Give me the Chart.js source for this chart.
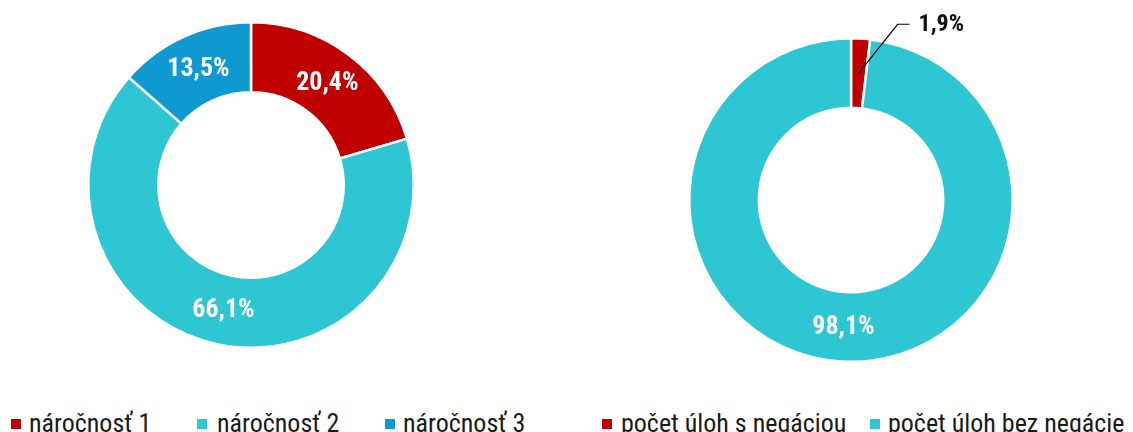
<!DOCTYPE html>
<html><head><meta charset="utf-8">
<script src="https://cdn.jsdelivr.net/npm/chart.js@4"></script>
<style>
html,body{margin:0;padding:0;background:#fff;width:1133px;height:432px;overflow:hidden;}
#wrap{position:relative;width:1133px;height:432px;}
canvas{position:absolute;}
.lt{position:absolute;font-family:"Roboto Condensed","Liberation Sans Narrow","Roboto",sans-serif;font-size:26px;color:#1a1a1a;white-space:nowrap;line-height:26px;}
.sq{position:absolute;width:10px;height:10px;}
</style></head>
<body><div id="wrap">
<canvas id="c1" style="left:0;top:0" width="566" height="400"></canvas>
<canvas id="c2" style="left:566px;top:0" width="567" height="400"></canvas>
</div>
<script>
const labels1 = ["náročnosť 1", "náročnosť 2", "náročnosť 3"];
const values1 = [20.4, 66.1, 13.5];
const labels2 = ["počet úloh s negáciou", "počet úloh bez negácie"];
const values2 = [1.9, 98.1];
const colors1 = ["#C00000", "#2EC6D2", "#0E99D0"];
const colors2 = ["#C00000", "#2EC6D2"];
const FONT = '"Roboto Condensed","Liberation Sans Narrow","Roboto",sans-serif';

const fmt = v => v.toFixed(1).replace('.', ',') + '%';

const labelPlugin = {
  id: 'sliceLabels',
  afterDatasetsDraw(chart, args, opts) {
    const ctx = chart.ctx;
    const meta = chart.getDatasetMeta(0);
    const data = chart.data.datasets[0].data;
    ctx.save();
    ctx.textAlign = 'center';
    ctx.textBaseline = 'middle';
    meta.data.forEach((arc, i) => {
      const p = arc.getProps(['x','y','startAngle','endAngle','innerRadius','outerRadius'], true);
      const mid = (p.startAngle + p.endAngle) / 2;
      const text = fmt(data[i]);
      if (opts.outside && opts.outside.includes(i)) {
        const r0 = (p.innerRadius + p.outerRadius) / 2;
        const x0 = p.x + Math.cos(mid) * r0;
        const y0 = p.y + Math.sin(mid) * r0;
        const x1 = x0 + 39, y1 = y0 - 49;
        ctx.strokeStyle = '#000';
        ctx.lineWidth = 1.2;
        ctx.beginPath();
        ctx.moveTo(x0, y0); ctx.lineTo(x1, y1); ctx.lineTo(x1 + 12, y1);
        ctx.stroke();
        ctx.fillStyle = '#111';
        ctx.font = 'bold 24px ' + FONT;
        ctx.textAlign = 'left';
        ctx.fillText(text, x1 + 21, y1 + 1);
        ctx.textAlign = 'center';
      } else {
        const r = (p.innerRadius + p.outerRadius) / 2;
        ctx.fillStyle = '#fff';
        ctx.font = 'bold 26px ' + FONT;
        ctx.fillText(text, p.x + Math.cos(mid) * r, p.y + Math.sin(mid) * r + 1);
      }
    });
    ctx.restore();
  }
};

function makeChart(id, labels, values, colors, padding, cutout, outside) {
  return new Chart(document.getElementById(id), {
    type: 'doughnut',
    data: { labels, datasets: [{ data: values, backgroundColor: colors, borderColor: '#fff', borderWidth: 2.5 }] },
    options: {
      responsive: false, animation: false, cutout,
      layout: { padding },
      plugins: { legend: { display: false }, tooltip: { enabled: false }, sliceLabels: { outside } }
    },
    plugins: [labelPlugin]
  });
}

const ch1 = makeChart('c1', labels1, values1, colors1, {left: 87, right: 151, top: 21, bottom: 51}, '57%', []);
const ch2 = makeChart('c2', labels2, values2, colors2, {left: 122, right: 119, top: 37, bottom: 37}, '57%', [0]);

function legend(chart, positions, textOffsets) {
  const wrap = document.getElementById('wrap');
  const items = chart.options.plugins.legend.labels.generateLabels(chart);
  items.forEach((it, i) => {
    const sq = document.createElement('div');
    sq.className = 'sq';
    sq.style.background = it.fillStyle;
    sq.style.left = positions[i] + 'px';
    sq.style.top = '419px';
    wrap.appendChild(sq);
    const t = document.createElement('div');
    t.className = 'lt';
    t.style.left = (positions[i] + textOffsets[i]) + 'px';
    t.style.top = '410px';
    t.textContent = it.text;
    wrap.appendChild(t);
  });
}
legend(ch1, [11, 197, 385], [18, 20, 18]);
legend(ch2, [602, 870], [19, 18]);
</script>
</body></html>
